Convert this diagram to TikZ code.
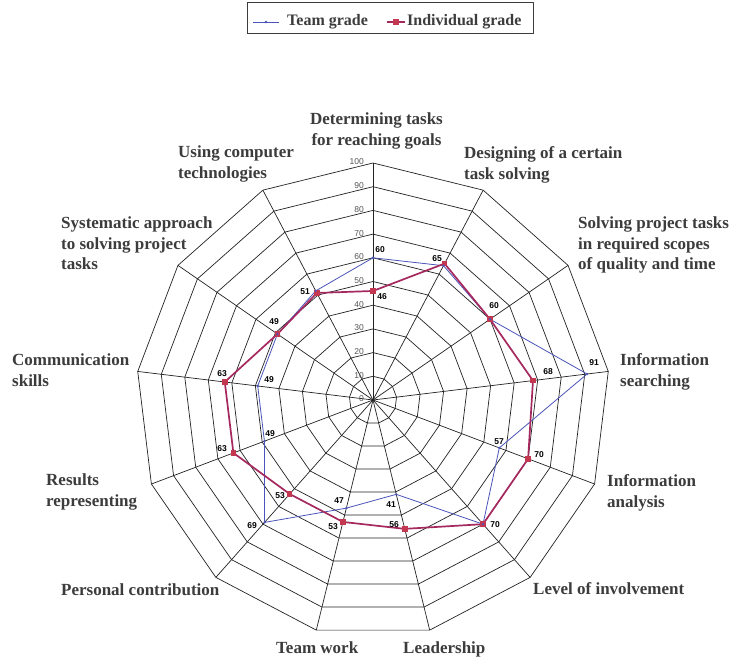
\documentclass[tikz,border=0pt]{standalone}
\usepackage{fontspec}
\setmainfont{Liberation Serif}
\setsansfont{Liberation Sans}
\definecolor{labelc}{RGB}{60,60,60}
\definecolor{teamc}{RGB}{75,85,185}
\definecolor{indc}{RGB}{165,40,95}
\definecolor{indm}{RGB}{195,55,80}
\definecolor{gridc}{RGB}{35,35,35}
\definecolor{tickc}{RGB}{85,85,85}
\newcommand\axtext[1]{\begin{tabular}[t]{@{}l@{}}#1\end{tabular}}
\newcommand\axtextc[1]{\begin{tabular}[t]{@{}c@{}}#1\end{tabular}}
\begin{document}
\begin{tikzpicture}[x=1pt,y=1pt,
  axlab/.style={font=\fontsize{17}{20.5}\selectfont\bfseries, text=labelc, inner sep=0pt, anchor=base west},
  legtext/.style={font=\fontsize{16}{19}\selectfont\bfseries, text=labelc, inner sep=0pt, anchor=base west},
  ticklab/.style={font=\sffamily\fontsize{8.5}{8.5}\selectfont, text=tickc, inner sep=0pt, anchor=east},
  val/.style={font=\sffamily\bfseries\fontsize{8.5}{8.5}\selectfont, inner sep=0pt},
  gridline/.style={draw=gridc, line width=0.7pt},
  teamline/.style={draw=teamc, line width=0.8pt},
  indline/.style={draw=indc, line width=1.7pt, line join=round},
  indmark/.style={fill=indm, draw=none, rectangle, minimum size=5.5pt, inner sep=0pt},
  teammark/.style={fill=teamc, draw=none, circle, minimum size=2.6pt, inner sep=0pt}]
\useasboundingbox (0,0) rectangle (731,661);
\fill[white] (0,0) rectangle (731,661);
\begin{scope}[shift={(0,661)}, yscale=-1]
  % legend
  \node[draw=labelc, line width=0.8pt, minimum width=286pt, minimum height=31pt, inner sep=0pt] (legbox) at (390,17.5) {};
  \coordinate (lta) at (253,22);
  \coordinate (ltb) at (279,22);
  \draw[teamline] (lta) -- (ltb);
  \node[teammark] (ltm) at (266,22) {};
  \node[legtext] (ltt) at (287,26) {Team grade};
  \coordinate (lia) at (387,22);
  \coordinate (lib) at (405,22);
  \draw[indline] (lia) -- (lib);
  \node[indmark] (lim) at (396,22) {};
  \node[legtext] (lit) at (407,26) {Individual grade};

  % axis labels
  \node[axlab, anchor=base] (a0) at (376.5,125) {\axtextc{Determining tasks\\for reaching goals}};
  \node[axlab] (a1) at (464,159) {\axtext{Designing of a certain\\task solving}};
  \node[axlab] (a2) at (578,229) {\axtext{Solving project tasks\\in required scopes\\of quality and time}};
  \node[axlab] (a3) at (620,366) {\axtext{Information\\searching}};
  \node[axlab] (a4) at (607,487) {\axtext{Information\\analysis}};
  \node[axlab] (a5) at (533,595) {Level of involvement};
  \node[axlab] (a6) at (403,654) {Leadership};
  \node[axlab] (a7) at (276,654) {Team work};
  \node[axlab] (a8) at (61,596) {Personal contribution};
  \node[axlab] (a9) at (46,486) {\axtext{Results\\representing}};
  \node[axlab] (a10) at (12,366) {\axtext{Communication\\skills}};
  \node[axlab] (a11) at (61,229) {\axtext{Systematic approach\\to solving project\\tasks}};
  \node[axlab] (a12) at (178,158) {\axtext{Using computer\\technologies}};

  \begin{scope}[shift={(373,400)}]
    \coordinate (O) at (0,0);
    % rings
    \foreach \n in {1,...,10} {
      \draw[gridline] (-90:{\n*23.7}) \foreach \k in {1,...,12} { -- ({\k*360/13-90}:{\n*23.7}) } -- cycle;
    }
    % spokes
    \foreach \k in {0,...,12} {
      \coordinate (o\k) at ({\k*360/13-90}:237);
      \draw[gridline] (O) -- (o\k);
    }
    % tick labels
    \foreach \n in {0,...,10} {
      \node[ticklab] (tk\n) at (-9,{-\n*23.7-1}) {\number\numexpr\n*10\relax};
    }
    % data
    \foreach \v [count=\k from 0] in {60,64,60,91,57,70,41,47,69,49,49,49,52}
      \coordinate (t\k) at ({\k*360/13-90}:{\v*2.37});
    \foreach \v [count=\k from 0] in {46,65,60,68,70,70,56,53,53,63,63,49,51}
      \coordinate (i\k) at ({\k*360/13-90}:{\v*2.37});
    \draw[teamline] (t0) \foreach \k in {1,...,12} { -- (t\k) } -- cycle;
    \draw[indline] (i0) \foreach \k in {1,...,12} { -- (i\k) } -- cycle;
    \foreach \k in {0,...,12} {
      \node[indmark] (im\k) at (i\k) {};
      \node[teammark] (tm\k) at (t\k) {};
    }
  \end{scope}

  % value labels
  \node[val] (v1) at (380,250) {60};
  \node[val] (v2) at (382,297) {46};
  \node[val] (v3) at (437,259) {65};
  \node[val] (v4) at (494,306) {60};
  \node[val] (v5) at (594,363) {91};
  \node[val] (v6) at (548,372) {68};
  \node[val] (v7) at (499,442) {57};
  \node[val] (v8) at (539,455) {70};
  \node[val] (v9) at (495,525) {70};
  \node[val] (v10) at (394,525) {56};
  \node[val] (v11) at (391,505) {41};
  \node[val] (v12) at (339,501) {47};
  \node[val] (v13) at (333,527) {53};
  \node[val] (v14) at (280,496) {53};
  \node[val] (v15) at (252,526) {69};
  \node[val] (v16) at (222,449) {63};
  \node[val] (v17) at (270,434) {49};
  \node[val] (v18) at (222,374) {63};
  \node[val] (v19) at (269,380) {49};
  \node[val] (v20) at (274,322) {49};
  \node[val] (v21) at (305,292) {51};
\end{scope}
\end{tikzpicture}
\end{document}
